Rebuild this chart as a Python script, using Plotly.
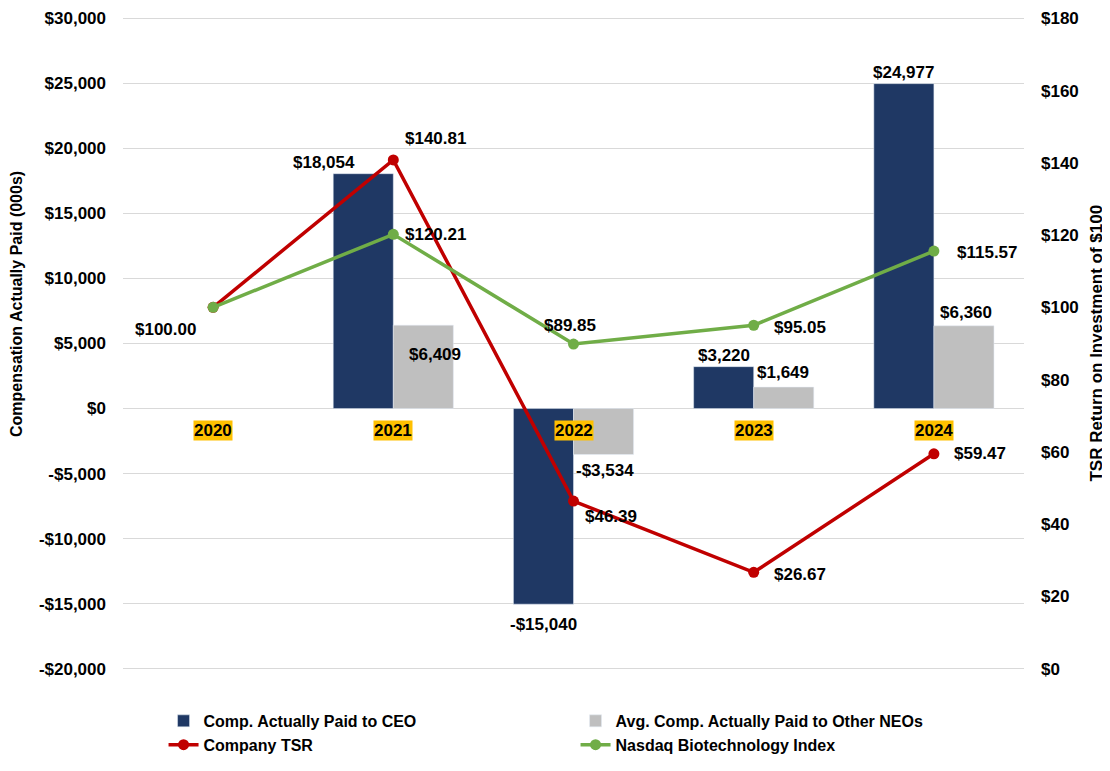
import plotly.graph_objects as go

years = ["2020", "2021", "2022", "2023", "2024"]
ceo_cap = [None, 18054, -15040, 3220, 24977]
neo_cap = [None, 6409, -3534, 1649, 6360]
company_tsr = [100.00, 140.81, 46.39, 26.67, 59.47]
nasdaq_bio = [100.00, 120.21, 89.85, 95.05, 115.57]

left_ticks = list(range(-20000, 30001, 5000))
right_ticks = list(range(0, 181, 20))

NAVY = "#1F3864"
GRAY = "#BFBFBF"
RED = "#C00000"
GREEN = "#70AD47"
FONT = "Liberation Sans, Arial, sans-serif"


def money(v, dec=0):
    s = f"${abs(v):,.{dec}f}"
    return "-" + s if v < 0 else s


# small padding so the first/last gridlines are not clipped at the plot edges
pad = 0.002
l_lo, l_hi = left_ticks[0], left_ticks[-1]
r_lo, r_hi = right_ticks[0], right_ticks[-1]
l_span, r_span = l_hi - l_lo, r_hi - r_lo
left_range = [l_lo - pad * l_span, l_hi + pad * l_span]
right_range = [r_lo - pad * r_span, r_hi + pad * r_span]

fig = go.Figure()
fig.add_trace(go.Bar(x=years, y=ceo_cap, name="Comp. Actually Paid to CEO",
                     marker_color=NAVY, yaxis="y"))
fig.add_trace(go.Bar(x=years, y=neo_cap, name="Avg. Comp. Actually Paid to Other NEOs",
                     marker_color=GRAY, yaxis="y"))
fig.add_trace(go.Scatter(x=years, y=company_tsr, name="Company TSR", yaxis="y2",
                         mode="lines+markers", line=dict(color=RED, width=3.5),
                         marker=dict(size=11, color=RED)))
fig.add_trace(go.Scatter(x=years, y=nasdaq_bio, name="Nasdaq Biotechnology Index", yaxis="y2",
                         mode="lines+markers", line=dict(color=GREEN, width=3.5),
                         marker=dict(size=11, color=GREEN)))

ann = []
lab_font = dict(family=FONT, size=17, color="black", weight="bold")

# bar labels: (xshift, yshift, anchor)
ceo_off = [None, (-39, 0, "bottom"), (0, -9, "top"), (0, 0, "bottom"), (0, 0, "bottom")]
neo_off = [None, (12, -18, "top"), (1, -4, "top"), (-1, 3, "bottom"), (2, 2, "bottom")]
for vals, offs, base in ((ceo_cap, ceo_off, -30), (neo_cap, neo_off, 30)):
    for i, (v, o) in enumerate(zip(vals, offs)):
        if v is None:
            continue
        ann.append(dict(x=i, y=v, xref="x", yref="y", text=money(v), showarrow=False,
                        xanchor="center", yanchor=o[2], xshift=base + o[0], yshift=o[1],
                        font=lab_font))

# line labels: (xshift, yshift)
tsr_off = [(-48, -22), (42, 21), (37, -15), (46, -2), (46, 0)]
nas_off = [None, (42, 0), (-4, 19), (46, -2), (54, -1)]
for vals, offs in ((company_tsr, tsr_off), (nasdaq_bio, nas_off)):
    for i, (v, o) in enumerate(zip(vals, offs)):
        if o is None:
            continue
        ann.append(dict(x=i, y=v, xref="x", yref="y2", text=money(v, 2), showarrow=False,
                        xanchor="center", yanchor="middle", xshift=o[0], yshift=o[1],
                        font=lab_font))

# year category labels with highlight
for i, yr in enumerate(years):
    ann.append(dict(x=i, y=0, xref="x", yref="y", text=yr, showarrow=False,
                    xanchor="center", yanchor="top", yshift=-11, bgcolor="#FFC000",
                    borderpad=0, font=dict(family=FONT, size=17, color="black", weight="bold")))

# axis titles
ann.append(dict(x=-0.118, y=0.56, xref="paper", yref="paper", text="Compensation Actually Paid (000s)",
                textangle=-90, showarrow=False, xanchor="center", yanchor="middle",
                font=dict(family=FONT, size=16, color="black", weight="bold")))
ann.append(dict(x=1.08, y=0.5, xref="paper", yref="paper", text="TSR Return on Investment of $100",
                textangle=-90, showarrow=False, xanchor="center", yanchor="middle",
                font=dict(family=FONT, size=17, color="black", weight="bold")))

# page body adds an 8px offset, so the figure is 8px smaller on each axis
fig.update_layout(
    width=1102, height=763,
    margin=dict(l=115, r=86, t=9, b=101, autoexpand=False),
    paper_bgcolor="white", plot_bgcolor="white",
    barmode="group", bargap=1/3, bargroupgap=0,
    showlegend=True,
    legend=dict(orientation="h", x=0.045, y=-0.052, xanchor="left", yanchor="top",
                entrywidth=367, entrywidthmode="pixels", traceorder="normal",
                font=dict(family=FONT, size=16, color="black", weight="bold")),
    xaxis=dict(type="category", range=[-0.5, len(years) - 0.5], showticklabels=False,
               showgrid=False, zeroline=False, showline=False, ticks="", automargin=False),
    yaxis=dict(range=left_range, tickvals=left_ticks,
               ticktext=[money(v) for v in left_ticks], automargin=False,
               showgrid=True, gridcolor="#D9D9D9", gridwidth=1, zeroline=False,
               showline=False, ticks="", ticklabelstandoff=16, ticklabeloverflow="allow",
               tickfont=dict(family=FONT, size=17, color="black", weight="bold")),
    yaxis2=dict(range=right_range, tickvals=right_ticks, automargin=False,
                ticktext=[money(v) for v in right_ticks],
                overlaying="y", side="right", showgrid=False, zeroline=False,
                showline=False, ticks="", ticklabelstandoff=16, ticklabeloverflow="allow",
                tickfont=dict(family=FONT, size=17, color="black", weight="bold")),
    annotations=ann,
)

fig.write_html("out.html")
